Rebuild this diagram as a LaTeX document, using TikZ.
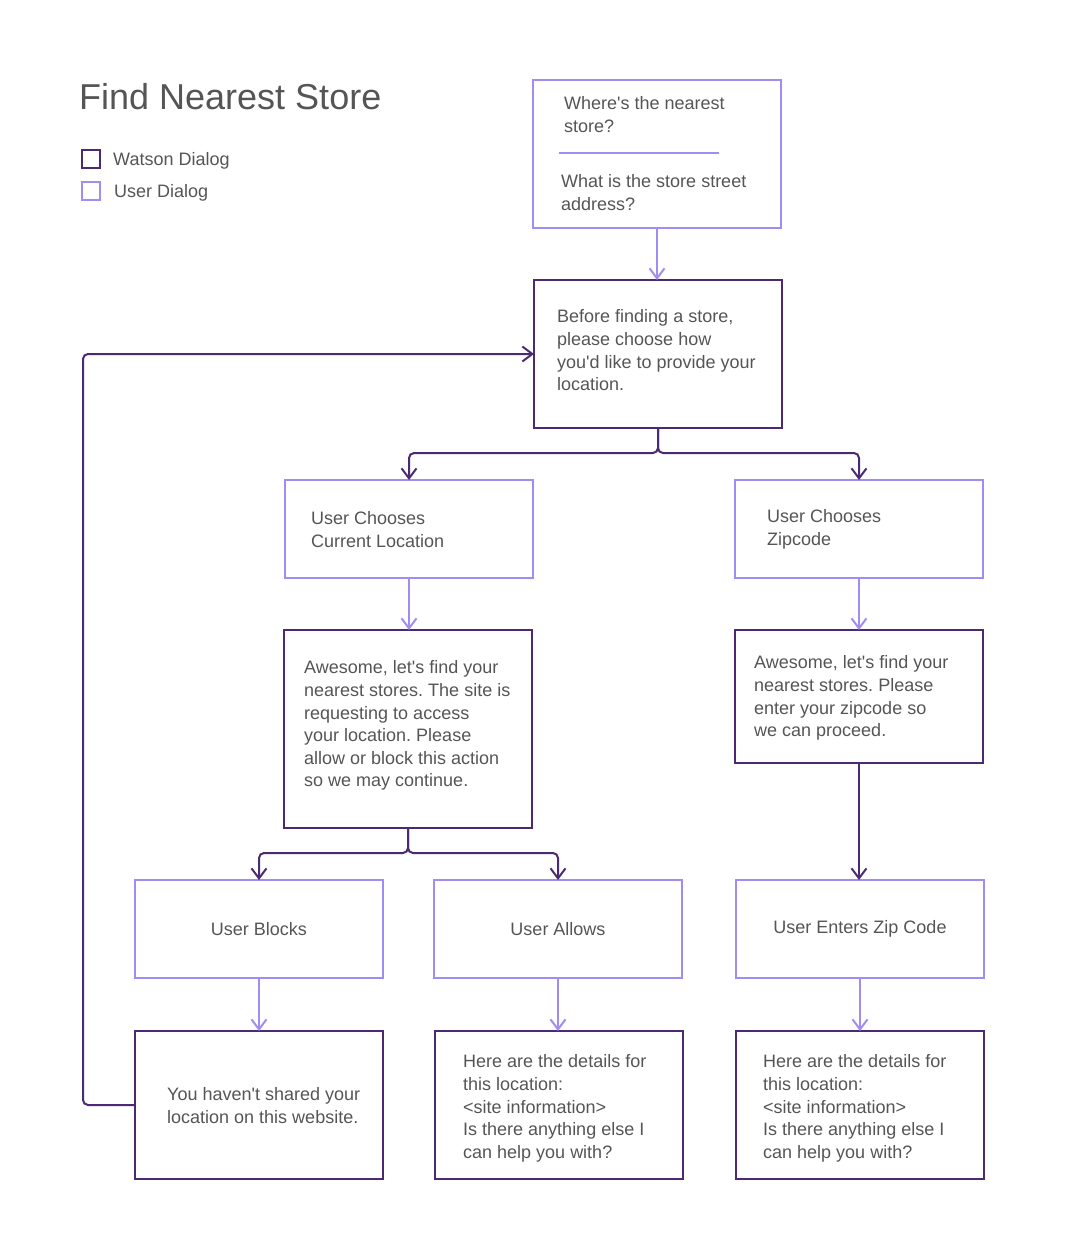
\documentclass[tikz,border=0pt]{standalone}
\usepackage{fontspec}
\setmainfont{Liberation Sans}[Ligatures=TeXOff]
\usetikzlibrary{arrows.meta}
\definecolor{dk}{HTML}{4B2A73}
\definecolor{lt}{HTML}{A08CF2}
\definecolor{txt}{HTML}{555555}
\frenchspacing
\tikzset{
  box/.style={draw, line width=2pt, rectangle, minimum width=248pt, inner sep=0pt, outer sep=0pt,
    text=txt, font=\fontsize{18}{22.6}\selectfont},
  wbox/.style={box, draw=dk},
  ubox/.style={box, draw=lt},
  lbl/.style={anchor=base west, align=left, inner sep=0pt, text=txt, font=\fontsize{18}{22.6}\selectfont},
  wline/.style={draw=dk, line width=2pt, rounded corners=5pt, -{Straight Barb[length=10pt,width=15pt,line width=2pt]}},
  uline/.style={draw=lt, line width=2pt, -{Straight Barb[length=10pt,width=15pt,line width=2pt]}},
}
\begin{document}
\begin{tikzpicture}[x=1pt,y=-1pt]
\useasboundingbox (0,0) rectangle (1083,1257);
% title and legend
\node[anchor=west, inner sep=0pt, text=txt, font=\fontsize{36}{40}\selectfont] (title) at (79,97) {Find Nearest Store};
\node[draw=dk, line width=2pt, minimum size=18pt, inner sep=0pt] (legw) at (90.5,159.5) {};
\node[draw=lt, line width=2pt, minimum size=18pt, inner sep=0pt] (legu) at (91,191.5) {};
\node[lbl, anchor=west] (legwt) at (113,161) {Watson Dialog};
\node[lbl, anchor=west] (legut) at (114,193) {User Dialog};
% boxes
\node[ubox, minimum height=148pt] (q) at (657,154) {};
\draw[lt, line width=2pt] (559,153) -- (719,153);
\node[lbl] (qt1) at (564,132.4) {Where's the nearest\\store?};
\node[lbl] (qt2) at (561,210.4) {What is the store street\\address?};

\node[wbox, minimum height=148pt] (b1) at (658,354) {};
\node[lbl] (b1t) at (557,390.6) {Before finding a store,\\please choose how\\you'd like to provide your\\location.};

\node[ubox, minimum height=98pt] (uc1) at (409,529) {};
\node[lbl] (uc1t) at (311,547.4) {User Chooses\\Current Location};
\node[ubox, minimum height=98pt] (uc2) at (859,529) {};
\node[lbl] (uc2t) at (767,545.4) {User Chooses\\Zipcode};

\node[wbox, minimum height=198pt] (a1) at (408,729) {};
\node[lbl] (a1t) at (304,786.8) {Awesome, let's find your\\nearest stores. The site is\\requesting to access\\your location. Please\\allow or block this action\\so we may continue.};
\node[wbox, minimum height=133pt] (a2) at (859,696.5) {};
\node[lbl] (a2t) at (754,736.6) {Awesome, let's find your\\nearest stores. Please\\enter your zipcode so\\we can proceed.};

\node[ubox, minimum height=98pt] (ub) at (259,929) {User Blocks};
\node[ubox, minimum height=98pt] (ua) at (558,929) {User Allows};
\node[ubox, minimum height=98pt] (uz) at (860,929) {User Enters Zip Code};

\node[wbox, minimum height=148pt] (r1) at (259,1105) {};
\node[lbl] (r1t) at (167,1123.4) {You haven't shared your\\location on this website.};
\node[wbox, minimum height=148pt] (r2) at (559,1105) {};
\node[lbl] (r2t) at (463,1158.2) {Here are the details for\\this location:\\<site information>\\Is there anything else I\\can help you with?};
\node[wbox, minimum height=148pt] (r3) at (860,1105) {};
\node[lbl] (r3t) at (763,1158.2) {Here are the details for\\this location:\\<site information>\\Is there anything else I\\can help you with?};

% connectors
\draw[uline] (q.south) -- (q.south |- b1.north);
\draw[wline] (b1.south) -- ++(0,25) -| (uc1.north);
\draw[wline] (b1.south) -- ++(0,25) -| (uc2.north);
\draw[uline] (uc1.south) -- (uc1.south |- a1.north);
\draw[uline] (uc2.south) -- (uc2.south |- a2.north);
\draw[wline] (a1.south) -- ++(0,25) -| (ub.north);
\draw[wline] (a1.south) -- ++(0,25) -| (ua.north);
\draw[wline] (a2.south) -- (a2.south |- uz.north);
\draw[uline] (ub.south) -- (ub.south |- r1.north);
\draw[uline] (ua.south) -- (ua.south |- r2.north);
\draw[uline] (uz.south) -- (uz.south |- r3.north);
\draw[wline] (r1.west) -- ++(-52,0) |- (b1.west);
\end{tikzpicture}
\end{document}
